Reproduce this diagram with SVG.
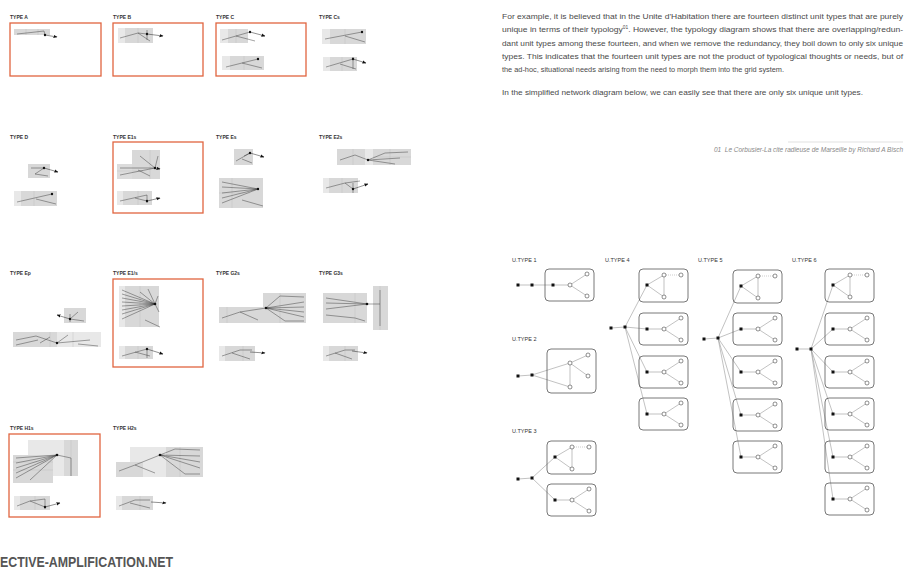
<svg xmlns="http://www.w3.org/2000/svg" xmlns:xlink="http://www.w3.org/1999/xlink" width="906" height="572" viewBox="0 0 906 572">
<style>
text{font-family:"Liberation Sans",Arial,sans-serif}
.lbl{font-size:5px;font-weight:bold;fill:#333}
.ulbl{font-size:5.5px;fill:#333}
.red{fill:none;stroke:#e0653f;stroke-width:1.3}
.g1{fill:#d8d8d8}
.g2{fill:#e8e8e8}
.dv{stroke:#bbb;stroke-width:.4}
.ln{fill:none;stroke:#333;stroke-width:.45}
.ar{fill:none;stroke:#222;stroke-width:.5;marker-end:url(#ah)}
.dot{fill:#111}
.box{fill:none;stroke:#555;stroke-width:.8}
.ul{fill:none;stroke:#999;stroke-width:.6}
.ud{fill:none;stroke:#999;stroke-width:.5;stroke-dasharray:1 1}
.oc{fill:#fff;stroke:#444;stroke-width:.6}
.para{font-size:8px;fill:#4a4a4a}
</style>
<defs>
<marker id="ah" markerWidth="4" markerHeight="4" refX="3.5" refY="2" orient="auto" markerUnits="userSpaceOnUse"><path d="M0,0.4 L4,2 L0,3.6z" fill="#111"/></marker>
<g id="boxY">
<rect class="box" x="0" y="0" width="49" height="32" rx="4"/>
<path class="ul" d="M8,16 L25,16 M25,16 L42,5 M25,16 L42,27"/>
<rect class="dot" x="6.5" y="14.5" width="3" height="3"/>
<circle class="oc" cx="25" cy="16" r="2"/>
<circle class="oc" cx="42" cy="5" r="2"/>
<circle class="oc" cx="42" cy="27" r="2"/>
</g>
<g id="boxT">
<rect class="box" x="0" y="0" width="49" height="33" rx="4"/>
<path class="ul" d="M8,16 L25,6 M8,16 L25,28 M25,6 L25,28"/>
<path class="ud" d="M25,6 L42,6"/>
<rect class="dot" x="6.5" y="14.5" width="3" height="3"/>
<circle class="oc" cx="25" cy="6" r="2"/>
<circle class="oc" cx="42" cy="6" r="2"/>
<circle class="oc" cx="25" cy="28" r="2"/>
</g>
</defs>
<rect width="906" height="572" fill="#fff"/>

<!-- LEFT: typology mini diagrams -->
<g id="typeA">
<text class="lbl" x="10" y="19">TYPE A</text>
<rect class="red" x="10" y="23" width="91" height="53"/>
<rect class="g1" x="14" y="29" width="36" height="6"/>
<path class="dv" d="M26,29 V35 M38,29 V35"/>
<path class="ln" d="M17,34 L31,32.5 L44,31 L45,35"/>
<circle class="dot" cx="45" cy="35" r="1.2"/>
<path class="ar" d="M45,35 L57,37"/>
</g>
<g id="typeB">
<text class="lbl" x="113" y="19">TYPE B</text>
<rect class="red" x="113" y="23" width="90" height="53"/>
<rect class="g1" x="118" y="28" width="35" height="15"/>
<rect class="g2" x="118" y="28" width="7" height="15"/>
<path class="dv" d="M138,28 V43"/>
<path class="ln" d="M120,38 L138,33 L147,34 M138,33 L150,41 M147,30 V40"/>
<circle class="dot" cx="147" cy="34" r="1.2"/>
<path class="ar" d="M147,34 L163,36"/>
</g>
<g id="typeC">
<text class="lbl" x="216" y="19">TYPE C</text>
<rect class="red" x="216" y="23" width="90" height="53"/>
<rect class="g1" x="220" y="29" width="28" height="14"/>
<rect class="g2" x="220" y="29" width="8" height="14"/>
<path class="dv" d="M236,29 V43"/>
<path class="ln" d="M222,40 L250,32 M236,36 L255,41"/>
<circle class="dot" cx="250" cy="32" r="1.2"/>
<path class="ar" d="M250,32 L265,36"/>
<rect class="g1" x="222" y="56" width="42" height="14"/>
<rect class="g2" x="222" y="56" width="8" height="14"/>
<path class="dv" d="M244,56 V70"/>
<path class="ln" d="M226,67 L258,59 M242,63 L262,68"/>
<circle class="dot" cx="258" cy="59" r="1.2"/>
</g>
<g id="typeCs">
<text class="lbl" x="319" y="19">TYPE Cs</text>
<rect class="g1" x="322" y="29" width="44" height="15"/>
<rect class="g2" x="322" y="29" width="8" height="15"/>
<path class="dv" d="M345,29 V44"/>
<path class="ln" d="M325,39 L362,32 M345,36 L365,42"/>
<circle class="dot" cx="362" cy="32" r="1.2"/>
<rect class="g1" x="323" y="57" width="34" height="14"/>
<rect class="g2" x="323" y="57" width="7" height="14"/>
<path class="dv" d="M342,57 V71"/>
<path class="ln" d="M326,67 L353,59 M340,64 L356,69 M353,57 V69"/>
<circle class="dot" cx="353" cy="59" r="1.2"/>
<path class="ar" d="M353,59 L366,63"/>
</g>

<g id="typeD">
<text class="lbl" x="10" y="139">TYPE D</text>
<rect class="g1" x="28" y="164" width="22" height="14"/>
<path class="ln" d="M31,168 L44,168 M44,168 L35,174 L48,176"/>
<circle class="dot" cx="44" cy="168" r="1.2"/>
<path class="ar" d="M44,168 L58,172"/>
<rect class="g1" x="14" y="191" width="43" height="15"/>
<rect class="g2" x="14" y="191" width="7" height="15"/>
<path class="dv" d="M34,191 V206"/>
<path class="ln" d="M17,202 L52,194 M36,199 L56,204"/>
<circle class="dot" cx="52" cy="194" r="1.2"/>
</g>
<g id="typeE1s">
<text class="lbl" x="113" y="139">TYPE E1s</text>
<rect class="red" x="113" y="142" width="90" height="71"/>
<rect class="g1" x="132" y="150" width="28" height="29"/>
<rect class="g1" x="117" y="164" width="26" height="15" opacity=".9"/>
<path class="dv" d="M150,150 V179 M117,171 H143"/>
<path class="ln" d="M140,156 L155,168 M158,156 L155,168 M120,168 L155,168 M120,175 L155,168 M138,170 L150,176"/>
<circle class="dot" cx="155" cy="168" r="1.2"/>
<path class="ar" d="M155,168 L160,169"/>
<rect class="g1" x="117" y="191" width="35" height="14"/>
<rect class="g2" x="117" y="191" width="6" height="14"/>
<path class="dv" d="M138,191 V205"/>
<path class="ln" d="M120,201 L147,195 M147,195 V203 M135,198 L147,201"/>
<circle class="dot" cx="147" cy="201" r="1.2"/>
<path class="ar" d="M147,201 L160,198"/>
</g>
<g id="typeEs">
<text class="lbl" x="216" y="139">TYPE Es</text>
<rect class="g1" x="234" y="149" width="19" height="16"/>
<path class="ln" d="M236,161 L250,153 M242,159 L252,163 M244,156 L250,153"/>
<circle class="dot" cx="250" cy="153" r="1.2"/>
<path class="ar" d="M250,153 L264,157"/>
<rect class="g1" x="219" y="178" width="44" height="30"/>
<path class="dv" d="M232,178 V208 M219,193 H250"/>
<path class="ln" d="M222,182 L258,189 M222,187 L258,189 M222,193 L258,189 M222,198 L258,189 M222,203 L258,189 M242,200 L263,206"/>
<circle class="dot" cx="258" cy="189" r="1.2"/>
</g>
<g id="typeE2s">
<text class="lbl" x="319" y="139">TYPE E2s</text>
<rect class="g1" x="337" y="149" width="74" height="16"/>
<rect class="g2" x="365" y="149" width="8" height="16"/>
<path class="dv" d="M353,149 V165 M390,149 V165 M373,157 H411"/>
<path class="ln" d="M340,160 L355,155 L368,160 M368,160 L385,153 L408,152 M368,160 L400,158 M368,160 L395,164"/>
<circle class="dot" cx="368" cy="160" r="1.2"/>
<rect class="g1" x="323" y="178" width="35" height="15"/>
<rect class="g2" x="323" y="178" width="6" height="15"/>
<path class="dv" d="M342,178 V193"/>
<path class="ln" d="M326,188 L345,183 L353,189 M353,183 V193 M345,183 L360,181"/>
<circle class="dot" cx="353" cy="189" r="1.2"/>
<path class="ar" d="M353,189 L368,184"/>
</g>

<g id="typeEp">
<text class="lbl" x="10" y="275">TYPE Ep</text>
<rect class="g1" x="64" y="308" width="22" height="15"/>
<path class="ln" d="M70,319 L78,312 M70,319 L84,321 M70,314 V322"/>
<circle class="dot" cx="70" cy="319" r="1.2"/>
<path class="ar" d="M70,319 L57,315"/>
<rect class="g1" x="13" y="332" width="88" height="15"/>
<rect class="g2" x="57" y="332" width="44" height="15"/>
<path class="dv" d="M50,332 V347 M73,332 V347"/>
<path class="ln" d="M16,340 L36,336 L57,343 M16,345 L38,340 M40,343 L50,337 M57,343 L68,335 M57,343 L90,340 M78,344 L98,346"/>
<circle class="dot" cx="57" cy="343" r="1.2"/>
</g>
<g id="typeE1_s">
<text class="lbl" x="113" y="275">TYPE E1/s</text>
<rect class="red" x="113" y="279" width="90" height="88"/>
<rect class="g1" x="119" y="286" width="40" height="41"/>
<rect class="g2" x="119" y="286" width="6" height="41"/>
<path class="dv" d="M140,286 V327"/>
<path class="ln" d="M122,290 L155,304 M122,294 L155,304 M122,298 L155,304 M122,302 L155,304 M122,306 L155,304 M122,310 L155,304 M122,314 L155,304 M122,319 L155,304 M140,292 L155,304 M148,289 L155,304 M155,304 L158,296 M155,304 L159,312 M145,320 L160,327"/>
<circle class="dot" cx="155" cy="304" r="1.3"/>
<rect class="g1" x="119" y="346" width="34" height="13"/>
<rect class="g2" x="119" y="346" width="6" height="13"/>
<path class="dv" d="M138,346 V359"/>
<path class="ln" d="M122,356 L147,349 M147,349 V358 M135,352 L150,356"/>
<circle class="dot" cx="147" cy="349" r="1.2"/>
<path class="ar" d="M147,349 L163,354"/>
</g>
<g id="typeG2s">
<text class="lbl" x="216" y="275">TYPE G2s</text>
<rect class="g1" x="219" y="307" width="48" height="16"/>
<rect class="g1" x="263" y="293" width="43" height="30"/>
<path class="dv" d="M227,307 V323 M280,293 V323"/>
<path class="ln" d="M222,318 L240,312 L266,308 M240,312 L258,320 M266,308 L280,296 L304,297 M266,308 L304,302 M266,308 L304,307 M266,308 L304,312 M266,308 L304,317 M266,308 L285,321 L304,321"/>
<circle class="dot" cx="266" cy="308" r="1.3"/>
<rect class="g1" x="219" y="346" width="36" height="15"/>
<rect class="g2" x="219" y="346" width="6" height="15"/>
<path class="dv" d="M243,346 V361"/>
<path class="ln" d="M222,356 L240,350 L252,350 M232,353 L250,359"/>
<path class="ar" d="M250,352 L265,353"/>
</g>
<g id="typeG3s">
<text class="lbl" x="319" y="275">TYPE G3s</text>
<rect class="g1" x="323" y="293" width="44" height="30"/>
<rect class="g1" x="373" y="286" width="15" height="44"/>
<path class="dv" d="M355,293 V323 M380,286 V330"/>
<path class="ln" d="M326,298 L367,304 M326,303 L367,304 M326,309 L367,304 M326,315 L355,318 M367,304 L380,304 M380,290 V326 M355,318 L365,321"/>
<circle class="dot" cx="367" cy="304" r="1.3"/>
<rect class="g1" x="323" y="346" width="35" height="15"/>
<rect class="g2" x="323" y="346" width="6" height="15"/>
<path class="dv" d="M345,346 V361"/>
<path class="ln" d="M326,356 L345,350 L355,350 M335,353 L352,359"/>
<path class="ar" d="M352,351 L367,353"/>
</g>

<g id="typeH1s">
<text class="lbl" x="10" y="430">TYPE H1s</text>
<rect class="red" x="9" y="434" width="91" height="83"/>
<rect class="g2" x="28" y="440" width="50" height="36"/>
<rect class="g1" x="64" y="440" width="14" height="36"/>
<rect class="g1" x="13" y="455" width="40" height="28"/>
<path class="dv" d="M13,462 H53 M13,470 H53 M71,440 V476"/>
<path class="ln" d="M16,458 L57,455 M16,463 L57,455 M16,468 L57,455 M16,473 L57,455 M16,478 L57,455 M30,480 L57,455 M57,455 L71,458 M71,458 V476"/>
<circle class="dot" cx="57" cy="455" r="1.3"/>
<rect class="g1" x="14" y="496" width="36" height="14"/>
<rect class="g2" x="14" y="496" width="6" height="14"/>
<path class="dv" d="M35,496 V510"/>
<path class="ln" d="M17,506 L30,501 L45,507 M30,501 L45,499 M45,499 V509"/>
<circle class="dot" cx="45" cy="507" r="1.2"/>
<path class="ar" d="M45,507 L60,503"/>
</g>
<g id="typeH2s">
<text class="lbl" x="113" y="430">TYPE H2s</text>
<rect class="g2" x="130" y="447" width="37" height="30"/>
<rect class="g1" x="116" y="462" width="27" height="15"/>
<rect class="g1" x="166" y="447" width="37" height="30"/>
<path class="dv" d="M180,447 V477"/>
<path class="ln" d="M119,471 L135,465 L160,455 M135,465 L155,473 M160,455 L175,449 L200,450 M160,455 L200,456 M160,455 L200,462 M160,455 L200,468 M160,455 L185,474 L200,474"/>
<circle class="dot" cx="160" cy="455" r="1.3"/>
<rect class="g1" x="116" y="496" width="37" height="14"/>
<rect class="g2" x="116" y="496" width="6" height="14"/>
<path class="dv" d="M140,496 V510"/>
<path class="ln" d="M119,506 L135,500 L150,500 M130,503 L150,508"/>
<path class="ar" d="M151,502 L166,503"/>
</g>

<text id="footer" x="0" y="567" font-size="14" font-weight="bold" fill="#555" textLength="173" lengthAdjust="spacingAndGlyphs">ECTIVE-AMPLIFICATION.NET</text>

<!-- RIGHT: text -->
<g id="paragraph">
<text class="para" x="502" y="19" textLength="401" lengthAdjust="spacingAndGlyphs">For example, it is believed that in the Unite d'Habitation there are fourteen distinct unit types that are purely</text>
<text class="para" x="502" y="32" textLength="401" lengthAdjust="spacingAndGlyphs">unique in terms of their typology<tspan font-size="4.5" dy="-3">01</tspan><tspan dy="3">. However, the typology diagram shows that there are overlapping/redun-</tspan></text>
<text class="para" x="502" y="46" textLength="401" lengthAdjust="spacingAndGlyphs">dant unit types among these fourteen, and when we remove the redundancy, they boil down to only six unique</text>
<text class="para" x="502" y="59" textLength="401" lengthAdjust="spacingAndGlyphs">types. This indicates that the fourteen unit types are not the product of typological thoughts or needs, but of</text>
<text class="para" x="502" y="72" textLength="282" lengthAdjust="spacingAndGlyphs">the ad-hoc, situational needs arising from the need to morph them into the grid system.</text>
<text class="para" x="502" y="95" textLength="361" lengthAdjust="spacingAndGlyphs">In the simplified network diagram below, we can easily see that there are only six unique unit types.</text>
</g>
<g id="caption">
<line x1="788" y1="142" x2="903" y2="142" stroke="#ccc" stroke-width=".6"/>
<text x="903" y="152" font-size="6.5" font-style="italic" fill="#888" text-anchor="end" xml:space="preserve">01  Le Corbusier-La cite radieuse de Marseille by Richard A Bisch</text>
</g>

<!-- RIGHT: unit types network -->
<g id="connectors">
<path class="ul" d="M518,285 L553,285"/>
<path class="ul" d="M518,376 L532,375 M532,375 L570,363 M532,375 L570,387"/>
<path class="ul" d="M518,479 L532,478 M532,478 L555,457 M532,478 L555,500"/>
<path class="ul" d="M611,328 L625,327 M625,327 L647,285 M625,327 L647,329 M625,327 L647,372 M625,327 L647,414"/>
<path class="ul" d="M704,339 L718,338 M718,338 L741,286 M718,338 L741,329 M718,338 L741,372 M718,338 L741,415 M718,338 L741,457"/>
<path class="ul" d="M797,349 L811,349 M811,349 L833,285 M811,349 L833,329 M811,349 L833,372 M811,349 L833,414 M811,349 L833,457 M811,349 L833,499"/>
</g>

<g id="utype1">
<text class="ulbl" x="512" y="262">U.TYPE 1</text>
<rect class="dot" x="516.5" y="283.5" width="3" height="3"/>
<rect class="dot" x="530.5" y="283.5" width="3" height="3"/>
<use xlink:href="#boxY" x="545" y="269"/>
</g>
<g id="utype2">
<text class="ulbl" x="512" y="341">U.TYPE 2</text>
<rect class="dot" x="516.5" y="374.5" width="3" height="3"/>
<rect class="dot" x="530.5" y="373.5" width="3" height="3"/>
<rect class="box" x="547" y="349" width="49" height="44" rx="4"/>
<path class="ul" d="M570,363 L588,355 M570,363 L588,376 M570,363 L570,387"/>
<circle class="oc" cx="570" cy="363" r="2"/>
<circle class="oc" cx="588" cy="355" r="2"/>
<circle class="oc" cx="588" cy="376" r="2"/>
<circle class="oc" cx="570" cy="387" r="2"/>
</g>
<g id="utype3">
<text class="ulbl" x="512" y="433">U.TYPE 3</text>
<rect class="dot" x="516.5" y="477.5" width="3" height="3"/>
<rect class="dot" x="530.5" y="476.5" width="3" height="3"/>
<use xlink:href="#boxT" x="547" y="441"/>
<use xlink:href="#boxY" x="547" y="484"/>
</g>
<g id="utype4">
<text class="ulbl" x="605" y="262">U.TYPE 4</text>
<rect class="dot" x="609.5" y="326.5" width="3" height="3"/>
<rect class="dot" x="623.5" y="325.5" width="3" height="3"/>
<use xlink:href="#boxT" x="639" y="269"/>
<use xlink:href="#boxY" x="639" y="313"/>
<use xlink:href="#boxY" x="639" y="356"/>
<use xlink:href="#boxY" x="639" y="398"/>
</g>
<g id="utype5">
<text class="ulbl" x="698" y="262">U.TYPE 5</text>
<rect class="dot" x="702.5" y="337.5" width="3" height="3"/>
<rect class="dot" x="716.5" y="336.5" width="3" height="3"/>
<use xlink:href="#boxT" x="733" y="270"/>
<use xlink:href="#boxY" x="733" y="313"/>
<use xlink:href="#boxY" x="733" y="356"/>
<use xlink:href="#boxY" x="733" y="399"/>
<use xlink:href="#boxY" x="733" y="441"/>
</g>
<g id="utype6">
<text class="ulbl" x="792" y="262">U.TYPE 6</text>
<rect class="dot" x="795.5" y="347.5" width="3" height="3"/>
<rect class="dot" x="809.5" y="347.5" width="3" height="3"/>
<use xlink:href="#boxT" x="825" y="269"/>
<use xlink:href="#boxY" x="825" y="313"/>
<use xlink:href="#boxY" x="825" y="356"/>
<use xlink:href="#boxY" x="825" y="398"/>
<use xlink:href="#boxY" x="825" y="441"/>
<use xlink:href="#boxY" x="825" y="483"/>
</g>
</svg>
